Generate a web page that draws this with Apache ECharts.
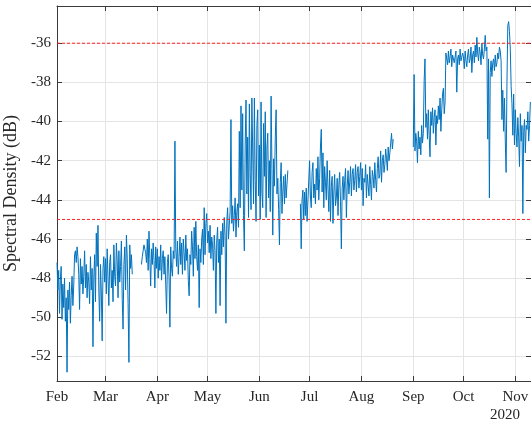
<!DOCTYPE html>
<html>
<head>
<meta charset="utf-8">
<script src="https://cdn.jsdelivr.net/npm/echarts@6/dist/echarts.min.js"></script>
<style>html,body{margin:0;padding:0;background:#fff}#c{width:531px;height:427px}</style>
</head>
<body>
<div id="c"></div>
<script>
// Month tick labels
var monthLabels = ['Jan','Feb','Mar','Apr','May','Jun','Jul','Aug','Sep','Oct','Nov','Dec'];
var tickMonths = [1,2,3,4,5,6,7,8,9,10]; // Feb..Nov (0-based month index)
var yearLabel = '2020';
var thresholds = [-36, -45];

// Values, two samples per day (00:00 and 12:00), each month starting on day 1
var feb = [-47.2,-48.6,-47.6,-49.8,-48.1,-47.4,-50.1,-48.3,-49.5,-48.0,-50.2,-49.0,-52.8,-48.6,-49.6,-48.2,-50.3,-48.9,-47.9,-49.4,
  -48.4,-46.8,-46.6,-47.2,-46.4,-46.9,-47.8,-49.6,-47.0,-48.3,-47.4,-48.8,-47.9,-46.6,-48.5,-47.3,-49.0,-47.7,-48.2,-49.3,
  -46.9,-48.6,-47.5,-51.5,-48.0,-46.8,-49.2,-45.7,-47.4,-45.3,-48.6,-50.2,-47.3,-48.7,-51.2,-47.5,-46.9,-48.2];
var mar = [-47.0,-48.8,-46.5,-48.0,-49.4,-47.2,-46.8,-48.5,-47.6,-49.2,-46.3,-47.9,-48.4,-46.2,-47.1,-49.0,-46.6,-48.2,-47.4,-46.1,
  -49.1,-50.6,-47.3,-46.4,-48.6,-45.8,-47.0,-49.3,-52.3,-46.3,-47.5,-46.8,-47.8,null,null,null,null,null,null,null,
  null,null,null,-47.3,-46.9,-46.6,-46.3,-46.4,-46.7,-47.2,-46.0,-47.6,-45.6,-47.0,-48.4,-46.5,-47.3,-46.2,-47.1,-48.5,
  -46.4,-47.5];
var apr = [-46.5,-48.0,-46.9,-47.6,-46.3,-48.1,-47.0,-46.6,-47.8,-46.9,-48.3,-49.8,-47.2,-46.8,-48.0,-50.5,-46.4,-47.5,-47.9,-46.6,
  -47.0,-41.0,-46.5,-47.4,-46.1,-47.8,-46.9,-45.9,-47.3,-46.2,-47.8,-46.0,-46.7,-47.6,-45.8,-47.1,-46.5,-48.1,-48.9,-46.8,
  -47.3,-45.6,-46.4,-47.9,-45.4,-47.0,-45.1,-46.9,-47.6,-46.3,-49.5,-46.5,-47.2,-46.0,-45.5,-47.3,-44.4,-46.8,-45.2,-44.7];
var may = [-46.2,-45.6,-46.7,-45.3,-47.0,-45.9,-46.3,-47.6,-45.8,-46.6,-49.8,-46.1,-45.4,-47.2,-46.0,-49.4,-45.6,-46.8,-45.2,-46.4,
  -44.9,-45.8,-50.3,-45.1,-44.4,-46.0,-45.3,-44.6,-39.9,-45.2,-44.3,-45.6,-44.8,-43.9,-45.9,-44.6,-44.2,-45.4,-40.5,-44.4,
  -39.2,-43.5,-39.6,-44.8,-46.6,-41.2,-38.9,-43.7,-40.8,-44.9,-39.1,-42.6,-44.5,-38.8,-41.5,-44.2,-38.8,-43.0,-45.1,-40.2,
  -39.4,-43.8];
var jun = [-41.2,-45.0,-39.0,-43.6,-44.4,-40.1,-42.8,-39.5,-44.9,-41.3,-40.6,-43.9,-42.0,-44.6,-38.7,-42.4,-45.8,-41.9,-43.3,-40.8,
  -39.4,-43.7,-42.9,-44.5,-46.3,-43.1,-42.1,-44.7,-43.6,-42.8,-44.2,-42.7,-43.9,-43.2,-42.5,null,null,null,null,null,
  null,null,null,null,null,null,null,null,null,-44.2,-46.5,-44.0,-43.5,-45.0,-43.6,-44.8,-43.4,-45.1];
var jul = [-42.0,-43.8,-44.4,-42.6,-42.1,-43.9,-43.2,-44.2,-42.4,-43.5,-41.8,-44.0,-42.9,-41.3,-40.4,-43.6,-41.6,-44.4,-42.3,-43.1,
  -44.0,-42.0,-43.4,-44.6,-42.5,-45.1,-43.3,-42.8,-45.2,-43.6,-42.7,-44.3,-43.9,-42.9,-44.8,-43.2,-42.6,-44.1,-46.5,-43.4,
  -42.8,-44.0,-43.0,-42.4,-44.9,-43.3,-42.5,-43.7,-43.1,-42.3,-43.8,-42.7,-42.4,-43.5,-43.0,-42.2,-43.6,-42.6,-42.3,-43.4,
  -42.8,-42.1];
var aug = [-43.5,-42.4,-44.3,-42.9,-43.1,-42.2,-43.9,-42.7,-42.6,-43.8,-42.3,-43.2,-44.0,-42.5,-42.8,-43.4,-42.1,-43.0,-43.6,-42.4,
  -41.8,-42.9,-42.7,-41.5,-43.1,-42.0,-41.7,-42.6,-42.2,-41.4,-41.9,-42.5,-41.3,-42.0,-41.6,-41.1,-40.6,-41.4,-40.9,null];
var sep = [-41.3,-37.6,-41.5,-40.6,-41.0,-42.1,-40.5,-41.4,-40.8,-41.7,-40.2,-41.1,-40.6,-37.9,-36.8,-40.3,-39.6,-40.9,-39.4,-40.7,
  -41.8,-39.5,-40.2,-39.3,-40.6,-39.8,-39.4,-41.2,-39.7,-40.1,-39.2,-39.9,-38.8,-40.5,-39.4,-38.6,-38.3,-39.6,-39.0,-36.5,
  -36.8,-37.1,-36.4,-37.0,-36.7,-36.3,-37.2,-36.6,-36.5,-37.0,-36.9,-36.4,-38.5,-36.8,-36.6,-37.1,-36.3,-36.9,-37.0,-36.5];
var oct = [-36.7,-37.3,-36.4,-36.9,-37.2,-36.6,-36.3,-37.0,-36.8,-36.2,-37.5,-36.6,-36.4,-37.0,-36.1,-36.7,-35.7,-36.5,-36.9,-36.2,
  -36.5,-37.1,-36.0,-36.6,-36.8,-36.3,-35.6,-36.4,-36.2,-40.9,-36.8,-43.9,-37.5,-36.9,-37.7,-37.0,-36.8,-37.4,-36.6,-37.2,
  -37.0,-36.5,-36.8,-36.2,-36.4,-36.9,-39.9,-38.4,-40.5,-38.8,-41.0,-42.6,-38.0,-35.1,-34.9,-35.4,-36.3,-38.2,-39.1,-40.7,
  -38.6,-41.2];
var nov = [-39.4,-40.6,-41.3,-39.8,-40.8,-42.3,-39.6,-41.0,-40.2,-44.7,-40.5,-39.9,-41.6,-40.2,-40.4,-39.5,-41.0,-40.2,-39.0];

var months = [[1,feb],[2,mar],[3,apr],[4,may],[5,jun],[6,jul],[7,aug],[8,sep],[9,oct],[10,nov]];
var HALF = 12*3600*1000;
var data = [];
months.forEach(function(m){
  var t0 = Date.UTC(2020, m[0], 1);
  m[1].forEach(function(v, i){ data.push([t0 + i*HALF, v]); });
});
var ticks = tickMonths.map(function(m){ return Date.UTC(2020, m, 1); });
var xMin = Date.UTC(2020,1,1), xMax = Date.UTC(2020,10,10,9);
var yMin = -53.25, yMax = -34.1;

var font = 'Liberation Serif';
function yFmt(v){ return (Math.abs(v % 2) < 1e-6) ? String(v) : ''; }
function xFmt(v){ return monthLabels[new Date(v).getUTCMonth()]; }

var lineCol = '#3a3a3a';
var thresholdSeries = thresholds.map(function(t){
  return {type:'line', xAxisIndex:0, yAxisIndex:0, data:[[xMin, t],[xMax, t]],
    showSymbol:false, symbol:'none', silent:true, z:3, color:'#ff1f1f',
    lineStyle:{color:'#ff1f1f', type:[3,2], width:1}};
});
var chart = echarts.init(document.getElementById('c'), null, {renderer:'canvas'});
chart.setOption({
  animation: false,
  backgroundColor: '#ffffff',
  grid: {left:57, right:0, top:6, bottom:46, containLabel:false, outerBoundsMode:'none'},
  xAxis: [
    {type:'value', position:'bottom', min:xMin, max:xMax, scale:true,
     axisLine:{show:true, onZero:false, lineStyle:{color:lineCol, width:1}},
     axisTick:{show:true, inside:true, length:5, lineStyle:{color:lineCol}, customValues:ticks},
     axisLabel:{customValues:ticks, formatter:xFmt, color:'#262626', fontFamily:font, fontSize:15, margin:9, hideOverlap:false},
     splitLine:{show:true, lineStyle:{color:'#e4e4e4', width:1}}},
    {type:'value', position:'top', min:xMin, max:xMax, scale:true,
     axisLine:{show:true, onZero:false, lineStyle:{color:lineCol, width:1}},
     axisTick:{show:true, inside:true, length:5, lineStyle:{color:lineCol}, customValues:ticks},
     axisLabel:{show:false}, splitLine:{show:false}}
  ],
  yAxis: [
    {type:'value', position:'left', min:yMin, max:yMax, splitNumber:10,
     name:'Spectral Density (dB)', nameLocation:'middle', nameGap:33,
     nameTextStyle:{fontFamily:font, fontSize:18, color:'#262626'},
     axisLine:{show:true, onZero:false, lineStyle:{color:lineCol, width:1}},
     axisTick:{show:true, inside:true, length:5, lineStyle:{color:lineCol}},
     axisLabel:{formatter:yFmt, color:'#262626', fontFamily:font, fontSize:15, margin:6, showMinLabel:false, showMaxLabel:false},
     splitLine:{show:true, lineStyle:{color:'#e4e4e4', width:1}}},
    {type:'value', position:'right', min:yMin, max:yMax, splitNumber:10,
     axisLine:{show:true, onZero:false, lineStyle:{color:lineCol, width:1}},
     axisTick:{show:true, inside:true, length:5, lineStyle:{color:lineCol}},
     axisLabel:{show:false}, splitLine:{show:false}}
  ],
  graphic: [{type:'text', left:490, top:408, style:{text:yearLabel, font:'15px "Liberation Serif"', fill:'#262626'}}],
  series: [{
    type:'line', xAxisIndex:0, yAxisIndex:0, data:data, showSymbol:false, symbol:'none',
    connectNulls:false, color:'#0072BD', z:2,
    lineStyle:{color:'#0072BD', width:1}
  }].concat(thresholdSeries)
});
</script>
</body>
</html>
